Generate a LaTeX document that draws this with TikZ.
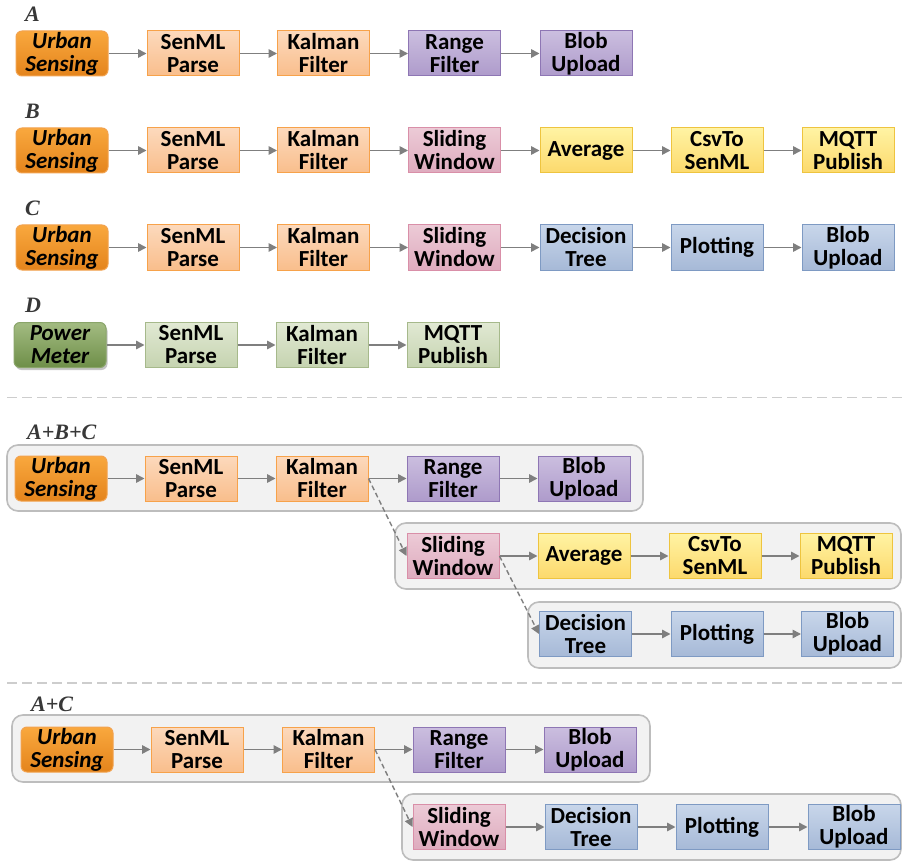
\documentclass[tikz,border=0pt]{standalone}
\usepackage{fontspec}
\setmainfont{Carlito}
\newfontfamily\lblfont{Liberation Serif}
\usetikzlibrary{arrows.meta,shadows}

\tikzset{
  blk/.style={draw, line width=1pt, minimum width=92pt, minimum height=45pt,
    inner sep=0pt, align=center, font=\fontsize{23}{23}\selectfont\bfseries},
  orgL/.style={blk, top color=orgLt, bottom color=orgLb, draw=orgLd},
  urban/.style={blk, rounded corners=6pt, top color=urbt, bottom color=urbb, draw=urbd,
    font=\fontsize{23}{23}\selectfont\bfseries\itshape},
  prp/.style={blk, top color=prpt, bottom color=prpb, draw=prpd},
  pnk/.style={blk, top color=pnkt, bottom color=pnkb, draw=pnkd},
  ylw/.style={blk, top color=ylwt, bottom color=ylwb, draw=ylwd},
  blu/.style={blk, top color=blut, bottom color=blub, draw=blud},
  grnL/.style={blk, top color=grnt, bottom color=grnb, draw=grnd},
  power/.style={blk, rounded corners=6pt, top color=powt, bottom color=powb, draw=powd,
    font=\fontsize{23}{23}\selectfont\bfseries\itshape,
    drop shadow={opacity=0.45, shadow xshift=1.5pt, shadow yshift=-2.5pt}},
  grp/.style={fill=grpfill, draw=grpline, line width=1.6pt, rounded corners=11pt},
  lbl/.style={anchor=west, inner sep=0pt, text=lblcol,
    font=\lblfont\fontsize{22}{22}\selectfont\bfseries\itshape},
  flow/.style={draw=arrcol, line width=1.6pt, -{Triangle[length=8.5pt,width=8.5pt]}},
  fork/.style={flow, dashed, dash pattern=on 5pt off 3pt, line width=1.4pt},
  sep/.style={draw=sepcol, line width=1.6pt, dash pattern=on 10pt off 5pt}
}

\definecolor{orgLt}{HTML}{FCD9BC}
\definecolor{orgLb}{HTML}{F9BE8C}
\definecolor{orgLd}{HTML}{F7A24A}
\definecolor{urbt}{HTML}{F9A83E}
\definecolor{urbb}{HTML}{E4841C}
\definecolor{urbd}{HTML}{F2A24E}
\definecolor{prpt}{HTML}{CBBEDF}
\definecolor{prpb}{HTML}{AE9BCB}
\definecolor{prpd}{HTML}{8E76B4}
\definecolor{pnkt}{HTML}{ECCAD6}
\definecolor{pnkb}{HTML}{DEABBE}
\definecolor{pnkd}{HTML}{D98FA8}
\definecolor{ylwt}{HTML}{FFF3A3}
\definecolor{ylwb}{HTML}{FCD96C}
\definecolor{ylwd}{HTML}{EEC43F}
\definecolor{blut}{HTML}{C8D6EA}
\definecolor{blub}{HTML}{A6B9D7}
\definecolor{blud}{HTML}{7E9AC3}
\definecolor{grnt}{HTML}{E1E9D3}
\definecolor{grnb}{HTML}{C5D3B0}
\definecolor{grnd}{HTML}{A6B98B}
\definecolor{powt}{HTML}{A3BC82}
\definecolor{powb}{HTML}{6E8E48}
\definecolor{powd}{HTML}{8AA56A}
\definecolor{grpfill}{HTML}{F2F2F2}
\definecolor{grpline}{HTML}{BDBDBD}
\definecolor{lblcol}{HTML}{383838}
\definecolor{arrcol}{HTML}{7F7F7F}
\definecolor{sepcol}{HTML}{CDCDCD}

\begin{document}
\begin{tikzpicture}[x=1pt, y=-1pt]
\useasboundingbox[fill=white] (0,0) rectangle (902,861);

% ---------- pipeline A ----------
\node[lbl] (lA) at (25,14) {A};
\node[urban] (a1) at (62,53.5)    {Urban\\Sensing};
\node[orgL]  (a2) at (193,53.5)   {SenML\\Parse};
\node[orgL]  (a3) at (323.5,53.5) {Kalman\\Filter};
\node[prp]   (a4) at (454.5,53.5) {Range\\Filter};
\node[prp]   (a5) at (586,53.5)   {Blob\\Upload};
\foreach \p/\q in {a1/a2,a2/a3,a3/a4,a4/a5} \draw[flow] (\p) -- (\q);

% ---------- pipeline B ----------
\node[lbl] (lB) at (25,111) {B};
\node[urban] (b1) at (62,150.5)    {Urban\\Sensing};
\node[orgL]  (b2) at (193,150.5)   {SenML\\Parse};
\node[orgL]  (b3) at (323.5,150.5) {Kalman\\Filter};
\node[pnk]   (b4) at (454.5,150.5) {Sliding\\Window};
\node[ylw]   (b5) at (586,150.5)   {Average};
\node[ylw]   (b6) at (717,150.5)   {CsvTo\\SenML};
\node[ylw]   (b7) at (848,150.5)   {MQTT\\Publish};
\foreach \p/\q in {b1/b2,b2/b3,b3/b4,b4/b5,b5/b6,b6/b7} \draw[flow] (\p) -- (\q);

% ---------- pipeline C ----------
\node[lbl] (lC) at (25,208) {C};
\node[urban] (c1) at (62,247.5)    {Urban\\Sensing};
\node[orgL]  (c2) at (193,247.5)   {SenML\\Parse};
\node[orgL]  (c3) at (323.5,247.5) {Kalman\\Filter};
\node[pnk]   (c4) at (454.5,247.5) {Sliding\\Window};
\node[blu]   (c5) at (586,247.5)   {Decision\\Tree};
\node[blu]   (c6) at (717,247.5)   {Plotting};
\node[blu]   (c7) at (848,247.5)   {Blob\\Upload};
\foreach \p/\q in {c1/c2,c2/c3,c3/c4,c4/c5,c5/c6,c6/c7} \draw[flow] (\p) -- (\q);

% ---------- pipeline D ----------
\node[lbl] (lD) at (25,305) {D};
\node[power] (d1) at (60,345)    {Power\\Meter};
\node[grnL]  (d2) at (191,345)   {SenML\\Parse};
\node[grnL]  (d3) at (322,345)   {Kalman\\Filter};
\node[grnL]  (d4) at (453,345)   {MQTT\\Publish};
\foreach \p/\q in {d1/d2,d2/d3,d3/d4} \draw[flow] (\p) -- (\q);

% ---------- separator ----------
\coordinate (s1a) at (7,397.5);
\coordinate (s1b) at (902,397.5);
\draw[sep] (s1a) -- (s1b);

% ---------- merged A+B+C ----------
\node[lbl] (lABC) at (27,432) {A+B+C};
\draw[grp] (7,445) rectangle (643,511);
\draw[grp] (395,523) rectangle (901,589);
\draw[grp] (528,602) rectangle (901,668);

\node[urban] (m1) at (61,478.5)  {Urban\\Sensing};
\node[orgL]  (m2) at (191,478.5) {SenML\\Parse};
\node[orgL]  (m3) at (322,478.5) {Kalman\\Filter};
\node[prp]   (m4) at (453,478.5) {Range\\Filter};
\node[prp]   (m5) at (584,478.5) {Blob\\Upload};
\foreach \p/\q in {m1/m2,m2/m3,m3/m4,m4/m5} \draw[flow] (\p) -- (\q);

\node[pnk] (n1) at (453,556) {Sliding\\Window};
\node[ylw] (n2) at (584,556) {Average};
\node[ylw] (n3) at (715,556) {CsvTo\\SenML};
\node[ylw] (n4) at (846,556) {MQTT\\Publish};
\foreach \p/\q in {n1/n2,n2/n3,n3/n4} \draw[flow] (\p) -- (\q);

\node[blu] (o1) at (585.5,634) {Decision\\Tree};
\node[blu] (o2) at (717,634)   {Plotting};
\node[blu] (o3) at (847.5,634) {Blob\\Upload};
\foreach \p/\q in {o1/o2,o2/o3} \draw[flow] (\p) -- (\q);

\draw[fork] (m3.east) -- (n1.west);
\draw[fork] (n1.east) -- (o1.west);

% ---------- separator ----------
\coordinate (s2a) at (7,683);
\coordinate (s2b) at (902,683);
\draw[sep] (s2a) -- (s2b);

% ---------- merged A+C ----------
\node[lbl] (lAC) at (31,704) {A+C};
\draw[grp] (12,715) rectangle (650,782);
\draw[grp] (402,794) rectangle (901,860);

\node[urban] (p1) at (67,749.5)    {Urban\\Sensing};
\node[orgL]  (p2) at (197,749.5)   {SenML\\Parse};
\node[orgL]  (p3) at (328.5,749.5) {Kalman\\Filter};
\node[prp]   (p4) at (459,749.5)   {Range\\Filter};
\node[prp]   (p5) at (590,749.5)   {Blob\\Upload};
\foreach \p/\q in {p1/p2,p2/p3,p3/p4,p4/p5} \draw[flow] (\p) -- (\q);

\node[pnk] (q1) at (459,827) {Sliding\\Window};
\node[blu] (q2) at (591,827) {Decision\\Tree};
\node[blu] (q3) at (722,827) {Plotting};
\node[blu] (q4) at (854,827) {Blob\\Upload};
\foreach \p/\q in {q1/q2,q2/q3,q3/q4} \draw[flow] (\p) -- (\q);

\draw[fork] (p3.east) -- (q1.west);
\end{tikzpicture}
\end{document}
